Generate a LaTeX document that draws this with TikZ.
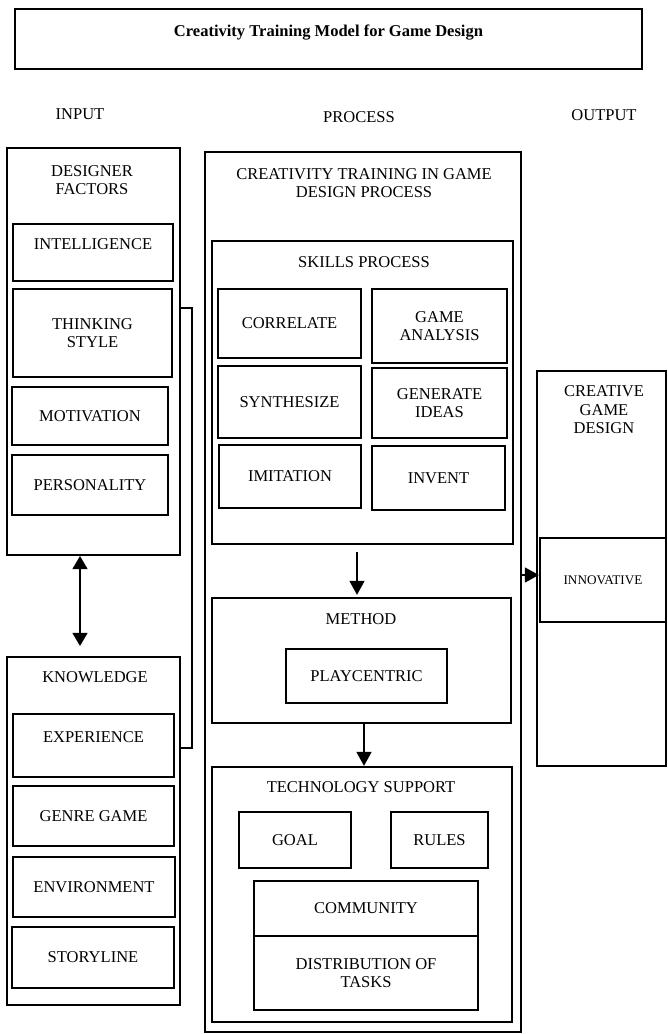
\documentclass[tikz,border=0pt]{standalone}
\usepackage{fontspec}
\setmainfont{Liberation Serif}
\usetikzlibrary{arrows.meta, positioning, calc}

\begin{document}
\begin{tikzpicture}[
  x=0.02cm, y=-0.02cm,
  font=\fontsize{9.4}{10.5}\selectfont,
  spanbox/.style n args={4}{minimum width={(#3-#1)*0.02cm},
        minimum height={(#4-#2)*0.02cm}, at={({(#1+#3)/2},{(#2+#4)/2})}},
  outer/.style={draw, line width=1.1pt, inner sep=0pt},
  item/.style={draw, line width=1.3pt, inner sep=0pt, align=center},
  hdr/.style={align=center, inner sep=1pt},
  toptext/.style={text depth=9.5pt},
  flow/.style={-{Triangle[length=8pt, width=8.5pt]}, line width=1.1pt},
  twoway/.style={{Triangle[length=7.5pt, width=8.5pt]}-{Triangle[length=7.5pt, width=8.5pt]}, line width=1.1pt}
]
  \useasboundingbox (0,0) rectangle (667,1034);

  %--- title ---
  \node[item, line width=1.6pt, toptext, spanbox={15}{9}{642}{69},
        font=\fontsize{9.4}{10.5}\selectfont\bfseries]
    (title) {Creativity Training Model for Game Design};

  %--- column headers ---
  \node[hdr] (inputhd)   at (80,114)  {INPUT};
  \node[hdr] (processhd) at (359,117) {PROCESS};
  \node[hdr] (outputhd)  at (604,115) {OUTPUT};

  %--- input: designer factors ---
  \node[outer, spanbox={7}{148}{180}{555}] (designer) {};
  \node[hdr] (designerhd) at (92,180) {DESIGNER\\FACTORS};
  \node[item, toptext, spanbox={13}{224}{173}{281}] (intel)  {INTELLIGENCE};
  \node[item, spanbox={13}{289}{172}{377}]          (think)  {THINKING\\STYLE};
  \node[item, spanbox={12}{387}{168}{445}]          (motiv)  {MOTIVATION};
  \node[item, spanbox={12}{455}{168}{515}]          (person) {PERSONALITY};

  %--- input: knowledge ---
  \node[outer, spanbox={7}{657}{180}{1005}] (knowledge) {};
  \node[hdr] (knowledgehd) at (95,677) {KNOWLEDGE};
  \node[item, toptext, spanbox={13}{714}{174}{777}] (exper) {EXPERIENCE};
  \node[item, spanbox={13}{786}{174}{846}]          (genre) {GENRE GAME};
  \node[item, spanbox={13}{857}{175}{917}]          (envir) {ENVIRONMENT};
  \node[item, spanbox={12}{927}{174}{988}]          (story) {STORYLINE};

  % bracket joining both input groups
  \coordinate (brtop) at (192,308);
  \coordinate (brbot) at (192,748);
  \draw[line width=1pt] (brtop -| designer.east) -- (brtop) -- (brbot) -- (brbot -| knowledge.east);

  \draw[twoway] ($(designer.south)+(-13.5,0)$) -- ($(knowledge.north)+(-13.5,-10)$);

  %--- process ---
  \node[outer, spanbox={205}{152}{521}{1032}] (procbox) {};
  \node[hdr] (procboxhd) at (364,183) {CREATIVITY TRAINING IN GAME\\DESIGN PROCESS};

  % skills
  \node[outer, line width=1.3pt, spanbox={212}{241}{513}{544}] (skills) {};
  \node[hdr] (skillshd) at (364,262) {SKILLS PROCESS};
  \node[item, spanbox={218}{289}{361}{358}] (correl) {CORRELATE};
  \node[item, spanbox={372}{289}{507}{363}] (ganal)  {GAME\\ANALYSIS};
  \node[item, spanbox={218}{366}{361}{438}] (synth)  {SYNTHESIZE};
  \node[item, spanbox={372}{368}{507}{438}] (genid)  {GENERATE\\IDEAS};
  \node[item, spanbox={219}{445}{361}{508}] (imit)   {IMITATION};
  \node[item, spanbox={372}{446}{505}{510}] (invent) {INVENT};

  % method
  \node[outer, line width=1.3pt, spanbox={212}{598}{511}{723}] (method) {};
  \node[hdr] (methodhd) at (361,619) {METHOD};
  \node[item, spanbox={286}{649}{447}{703}] (playc) {PLAYCENTRIC};

  % technology
  \node[outer, line width=1.3pt, spanbox={212}{767}{512}{1022}] (tech) {};
  \node[hdr] (techhd) at (361,787) {TECHNOLOGY SUPPORT};
  \node[item, spanbox={239}{812}{351}{868}]  (goal)   {GOAL};
  \node[item, spanbox={391}{812}{488}{868}]  (rules)  {RULES};
  \node[item, spanbox={254}{881}{478}{936}]  (commun) {COMMUNITY};
  \node[item, spanbox={254}{936}{478}{1010}] (distr)  {DISTRIBUTION OF\\TASKS};

  \draw[flow] ($(skills.south)+(-5.5,7)$) -- ($(method.north)+(-4.5,-2)$);
  \draw[flow] ($(method.south)+(2.5,0)$) -- ($(tech.north)+(2,0)$);

  %--- output ---
  \node[outer, spanbox={537}{371}{666}{766}] (creative) {};
  \node[hdr] (creativehd) at (604,410) {CREATIVE\\GAME\\DESIGN};
  \node[outer, line width=1.3pt, spanbox={540}{538}{666}{622},
        font=\fontsize{7.5}{9}\selectfont] (innov) {INNOVATIVE};

  \draw[flow] ($(innov.west -| procbox.east)+(0,-5)$) -- ($(innov.west)+(0,-5)$);

\end{tikzpicture}
\end{document}
